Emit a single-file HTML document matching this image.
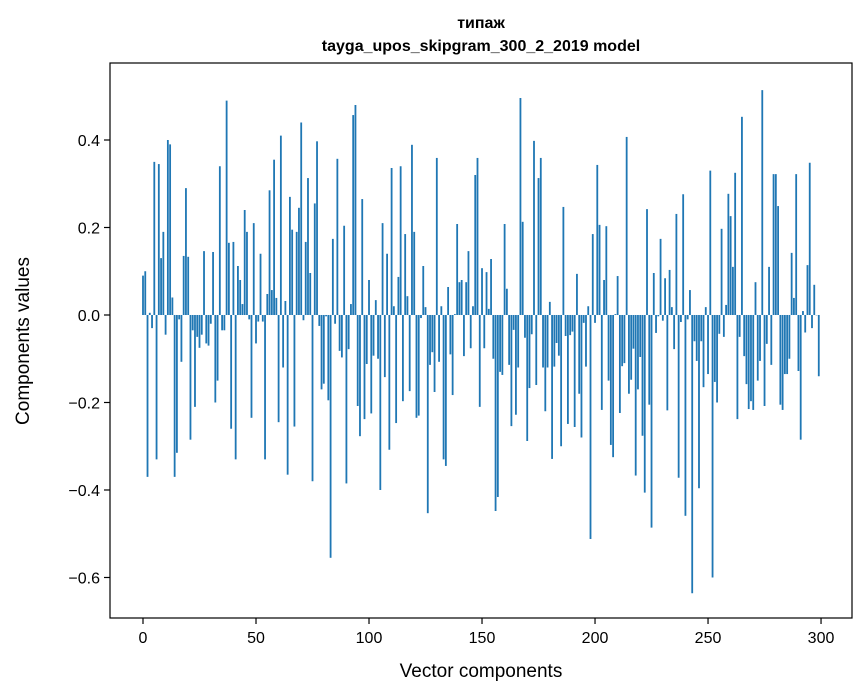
<!DOCTYPE html>
<html><head><meta charset="utf-8"><style>
body{margin:0;background:#fff}
svg{display:block;font-family:"Liberation Sans","DejaVu Sans",sans-serif}
</style></head><body>
<svg id="chart" width="867" height="696" viewBox="0 0 867 696">
<text x="481" y="28" text-anchor="middle" font-size="16" font-weight="bold">типаж</text>
<text x="481" y="51" text-anchor="middle" font-size="16" font-weight="bold">tayga_upos_skipgram_300_2_2019 model</text>
<g id="bars"></g>
<g id="axes"></g>
<text x="481" y="677" text-anchor="middle" font-size="19">Vector components</text>
<text transform="translate(29,341) rotate(-90)" text-anchor="middle" font-size="19">Components values</text>
</svg>
<script>
const values = [0.09,0.10,-0.37,0.005,-0.03,0.35,-0.33,0.345,0.13,0.19,-0.045,0.40,0.39,0.04,-0.37,-0.315,-0.01,-0.107,0.135,0.29,0.133,-0.285,-0.035,-0.21,-0.05,-0.075,-0.045,0.146,-0.065,-0.07,-0.02,0.144,-0.2,-0.15,0.34,-0.035,-0.035,0.49,0.165,-0.26,0.167,-0.33,0.112,0.08,0.025,0.24,0.19,-0.01,-0.235,0.21,
-0.065,-0.015,0.14,-0.015,-0.33,0.048,0.285,0.057,0.355,0.039,-0.245,0.41,-0.12,0.032,-0.365,0.27,0.195,-0.255,0.19,0.245,0.44,-0.012,0.167,0.313,0.096,-0.38,0.255,0.397,-0.025,-0.17,-0.157,-0.003,-0.195,-0.555,0.174,-0.02,0.357,-0.082,-0.097,0.204,-0.385,-0.078,0.025,0.457,0.48,-0.208,-0.277,0.265,-0.238,-0.112,
0.08,-0.225,-0.093,0.034,-0.1,-0.4,0.21,-0.142,0.14,-0.308,0.336,0.02,-0.247,0.087,0.34,-0.197,0.185,0.043,-0.174,0.389,0.19,-0.235,-0.23,-0.007,0.112,0.018,-0.453,-0.114,-0.085,-0.176,0.359,-0.107,0.02,-0.33,-0.345,0.064,-0.09,-0.183,0.002,0.208,0.075,0.08,-0.094,0.075,0.146,-0.076,0.02,0.32,0.359,-0.21,
0.107,-0.076,0.098,0.014,0.128,-0.1,-0.448,-0.416,-0.13,-0.137,0.208,0.06,-0.114,-0.254,-0.034,-0.228,-0.12,0.496,0.213,-0.052,-0.288,-0.167,-0.044,0.398,-0.16,0.313,0.359,-0.12,-0.22,-0.12,0.03,-0.329,-0.118,-0.064,-0.093,-0.3,0.247,-0.048,-0.249,-0.046,-0.038,-0.256,0.094,-0.18,-0.28,-0.018,-0.118,0.02,-0.512,0.185,
-0.018,0.343,0.206,-0.217,0.08,0.203,-0.15,-0.297,-0.325,0.002,0.089,-0.224,-0.117,-0.11,0.407,-0.18,-0.148,-0.077,-0.367,-0.17,-0.096,-0.276,-0.406,0.242,-0.205,-0.486,0.096,-0.041,-0.003,0.174,-0.013,0.084,-0.218,0.103,0.018,-0.078,0.231,-0.372,-0.016,0.276,-0.459,-0.01,0.057,-0.636,-0.06,-0.105,-0.396,-0.06,-0.165,0.018,
-0.135,0.33,-0.6,-0.153,-0.2,-0.043,0.197,-0.05,0.023,0.277,0.226,0.11,0.325,-0.238,-0.05,0.453,-0.094,-0.158,-0.215,-0.197,-0.217,0.075,-0.15,-0.105,0.514,-0.208,-0.066,0.11,-0.114,0.322,0.322,0.249,-0.205,-0.217,-0.135,-0.135,-0.1,0.142,0.039,0.322,-0.128,-0.285,0.009,-0.04,0.114,0.348,-0.03,0.069,0.0,-0.14];
const xTicks = [0,50,100,150,200,250,300];
const yTicks = [-0.6,-0.4,-0.2,0.0,0.2,0.4];
const yTickLabels = ["\u22120.6","\u22120.4","\u22120.2","0.0","0.2","0.4"];

const L=110,R=852,T=63,B=618;
const xMin=-14.6,xMax=313.7,yMin=-0.6926,yMax=0.576;
const xs=v=>L+(v-xMin)/(xMax-xMin)*(R-L);
const ys=v=>B-(v-yMin)/(yMax-yMin)*(B-T);
const NS="http://www.w3.org/2000/svg";
const bars=document.getElementById('bars');
values.forEach((v,i)=>{
  const r=document.createElementNS(NS,'rect');
  const x0=xs(i-0.4),x1=xs(i+0.4);
  const y0=ys(Math.max(v,0)),y1=ys(Math.min(v,0));
  r.setAttribute('x',x0);r.setAttribute('width',x1-x0);
  r.setAttribute('y',y0);r.setAttribute('height',Math.max(y1-y0,0.3));
  r.setAttribute('fill','#1f77b4');
  
  
  bars.appendChild(r);
});
const ax=document.getElementById('axes');
let h='<rect x="'+L+'" y="'+T+'" width="'+(R-L)+'" height="'+(B-T)+'" fill="none" stroke="#000" stroke-width="1.2"/>';
xTicks.forEach(t=>{const x=xs(t);
 h+='<line x1="'+x+'" x2="'+x+'" y1="'+B+'" y2="'+(B+6)+'" stroke="#000" stroke-width="1.2"/>';
 h+='<text x="'+x+'" y="'+(B+25)+'" text-anchor="middle" font-size="16">'+t+'</text>';});
yTicks.forEach((t,k)=>{const y=ys(t);
 h+='<line x1="'+(L-6)+'" x2="'+L+'" y1="'+y+'" y2="'+y+'" stroke="#000" stroke-width="1.2"/>';
 h+='<text x="'+(L-10)+'" y="'+(y+6)+'" text-anchor="end" font-size="16">'+yTickLabels[k]+'</text>';});
ax.innerHTML=h;
</script>
</body></html>
